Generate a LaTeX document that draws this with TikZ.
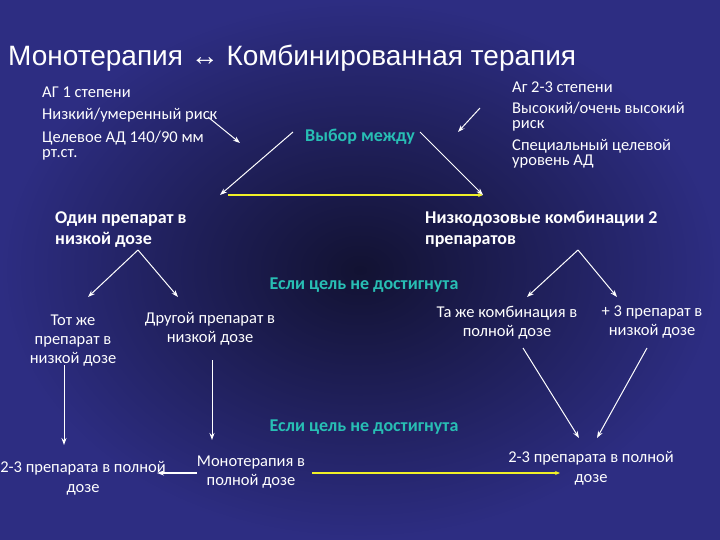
\documentclass[tikz,border=0pt]{standalone}
\usepackage{fontspec}
\setmainfont{Carlito}
\newfontfamily\titlefont{Liberation Sans}
\usetikzlibrary{arrows.meta}
\definecolor{bgin}{RGB}{18,18,50}
\definecolor{bgout}{RGB}{45,45,130}
\definecolor{teal}{RGB}{40,190,180}
\definecolor{ylw}{RGB}{240,240,40}
\begin{document}
\begin{tikzpicture}[x=1pt,y=-1pt,
  txt/.style={text=white,font=\fontsize{16.5}{18}\selectfont,inner sep=0pt},
  btxt/.style={text=white,font=\bfseries\fontsize{18}{21}\selectfont,inner sep=0pt,align=left},
  hl/.style={text=teal,font=\bfseries\fontsize{18}{20}\selectfont,inner sep=0pt},
  arr/.style={white,line width=1pt,-{Stealth[length=7pt,width=5pt]}},
  yarr/.style={ylw,line width=1.5pt,-{Stealth[length=5pt,width=4pt]}}]
\useasboundingbox (0,0) rectangle (720,540);
\shade[inner color=bgin,outer color=bgout] (0,0) rectangle (720,540);
\node[anchor=west,text=white,font=\titlefont\fontsize{28}{30}\selectfont,inner sep=0pt] (title) at (8,58) {Монотерапия ↔ Комбинированная терапия};
\node[txt,anchor=west] (l1) at (42,92) {АГ 1 степени};
\node[txt,anchor=west] (l2) at (42,115) {Низкий/умеренный риск};
\node[txt,anchor=north west,align=left,font=\fontsize{16.5}{15}\selectfont] (l3) at (42,131) {Целевое АД 140/90 мм\\рт.ст.};
\node[txt,anchor=west] (r1) at (512,87) {Аг 2-3 степени};
\node[txt,anchor=north west,align=left,font=\fontsize{16.5}{15}\selectfont] (r2) at (512,102) {Высокий/очень высокий\\риск};
\node[txt,anchor=north west,align=left,font=\fontsize{16.5}{15}\selectfont] (r3) at (512,139) {Специальный целевой\\уровень АД};
\node[hl] (choice) at (360,137) {Выбор между};
\coordinate (a1s) at (208,117); \coordinate (a1e) at (240,143);
\coordinate (a2s) at (480,108); \coordinate (a2e) at (458,132);
\draw[arr] (a1s) -- (a1e);
\draw[arr] (a2s) -- (a2e);
\coordinate (cl) at (293,132); \coordinate (cr) at (420,132);
\coordinate (yl) at (220,195); \coordinate (yr) at (483,195);
\draw[yarr] (228,195) -- (yr);
\draw[arr] (cl) -- (yl);
\draw[arr] (cr) -- (yr);
\node[btxt,anchor=north west] (mono) at (55,211) {Один препарат в\\низкой дозе};
\node[btxt,anchor=north west] (comb) at (425,211) {Низкодозовые комбинации 2\\препаратов};
\coordinate (ml) at (138,250); \coordinate (mr) at (578,250);
\coordinate (t1) at (88,297); \coordinate (t2) at (178,297);
\coordinate (t3) at (527,297); \coordinate (t4) at (617,297);
\draw[arr] (ml) -- (t1); \draw[arr] (ml) -- (t2);
\draw[arr] (mr) -- (t3); \draw[arr] (mr) -- (t4);
\node[hl] (if1) at (364,285) {Если цель не достигнута};
\node[txt,align=center,font=\fontsize{16.5}{19}\selectfont,anchor=north] (same) at (73,315) {Тот же\\препарат в\\низкой дозе};
\node[txt,align=center,font=\fontsize{16.5}{19}\selectfont,anchor=north] (other) at (210,312) {Другой препарат в\\низкой дозе};
\node[txt,align=center,font=\fontsize{16.5}{19}\selectfont,anchor=north] (samec) at (507,306) {Та же комбинация в\\полной дозе};
\node[txt,align=center,font=\fontsize{16.5}{19}\selectfont,anchor=north] (plus) at (652,306) {+ 3 препарат в\\низкой дозе};
\node[hl] (if2) at (364,427) {Если цель не достигнута};
\node[txt,align=center,font=\fontsize{16.5}{20}\selectfont,anchor=north] (f1) at (83,461) {2-3 препарата в полной\\дозе};
\node[txt,align=center,font=\fontsize{16.5}{19}\selectfont,anchor=north] (f2) at (251,456) {Монотерапия в\\полной дозе};
\node[txt,align=center,font=\fontsize{16.5}{20}\selectfont,anchor=north] (f3) at (591,451) {2-3 препарата в полной\\дозе};
\draw[arr] (64,365) -- (64,445);
\draw[arr] (212,360) -- (212,440);
\draw[arr] (523,348) -- (579,438);
\draw[arr] (647,348) -- (597,438);
\draw[arr,line width=1.8pt] (197,473) -- (157,473);
\draw[yarr] (312,473) -- (560,473);
\end{tikzpicture}
\end{document}
